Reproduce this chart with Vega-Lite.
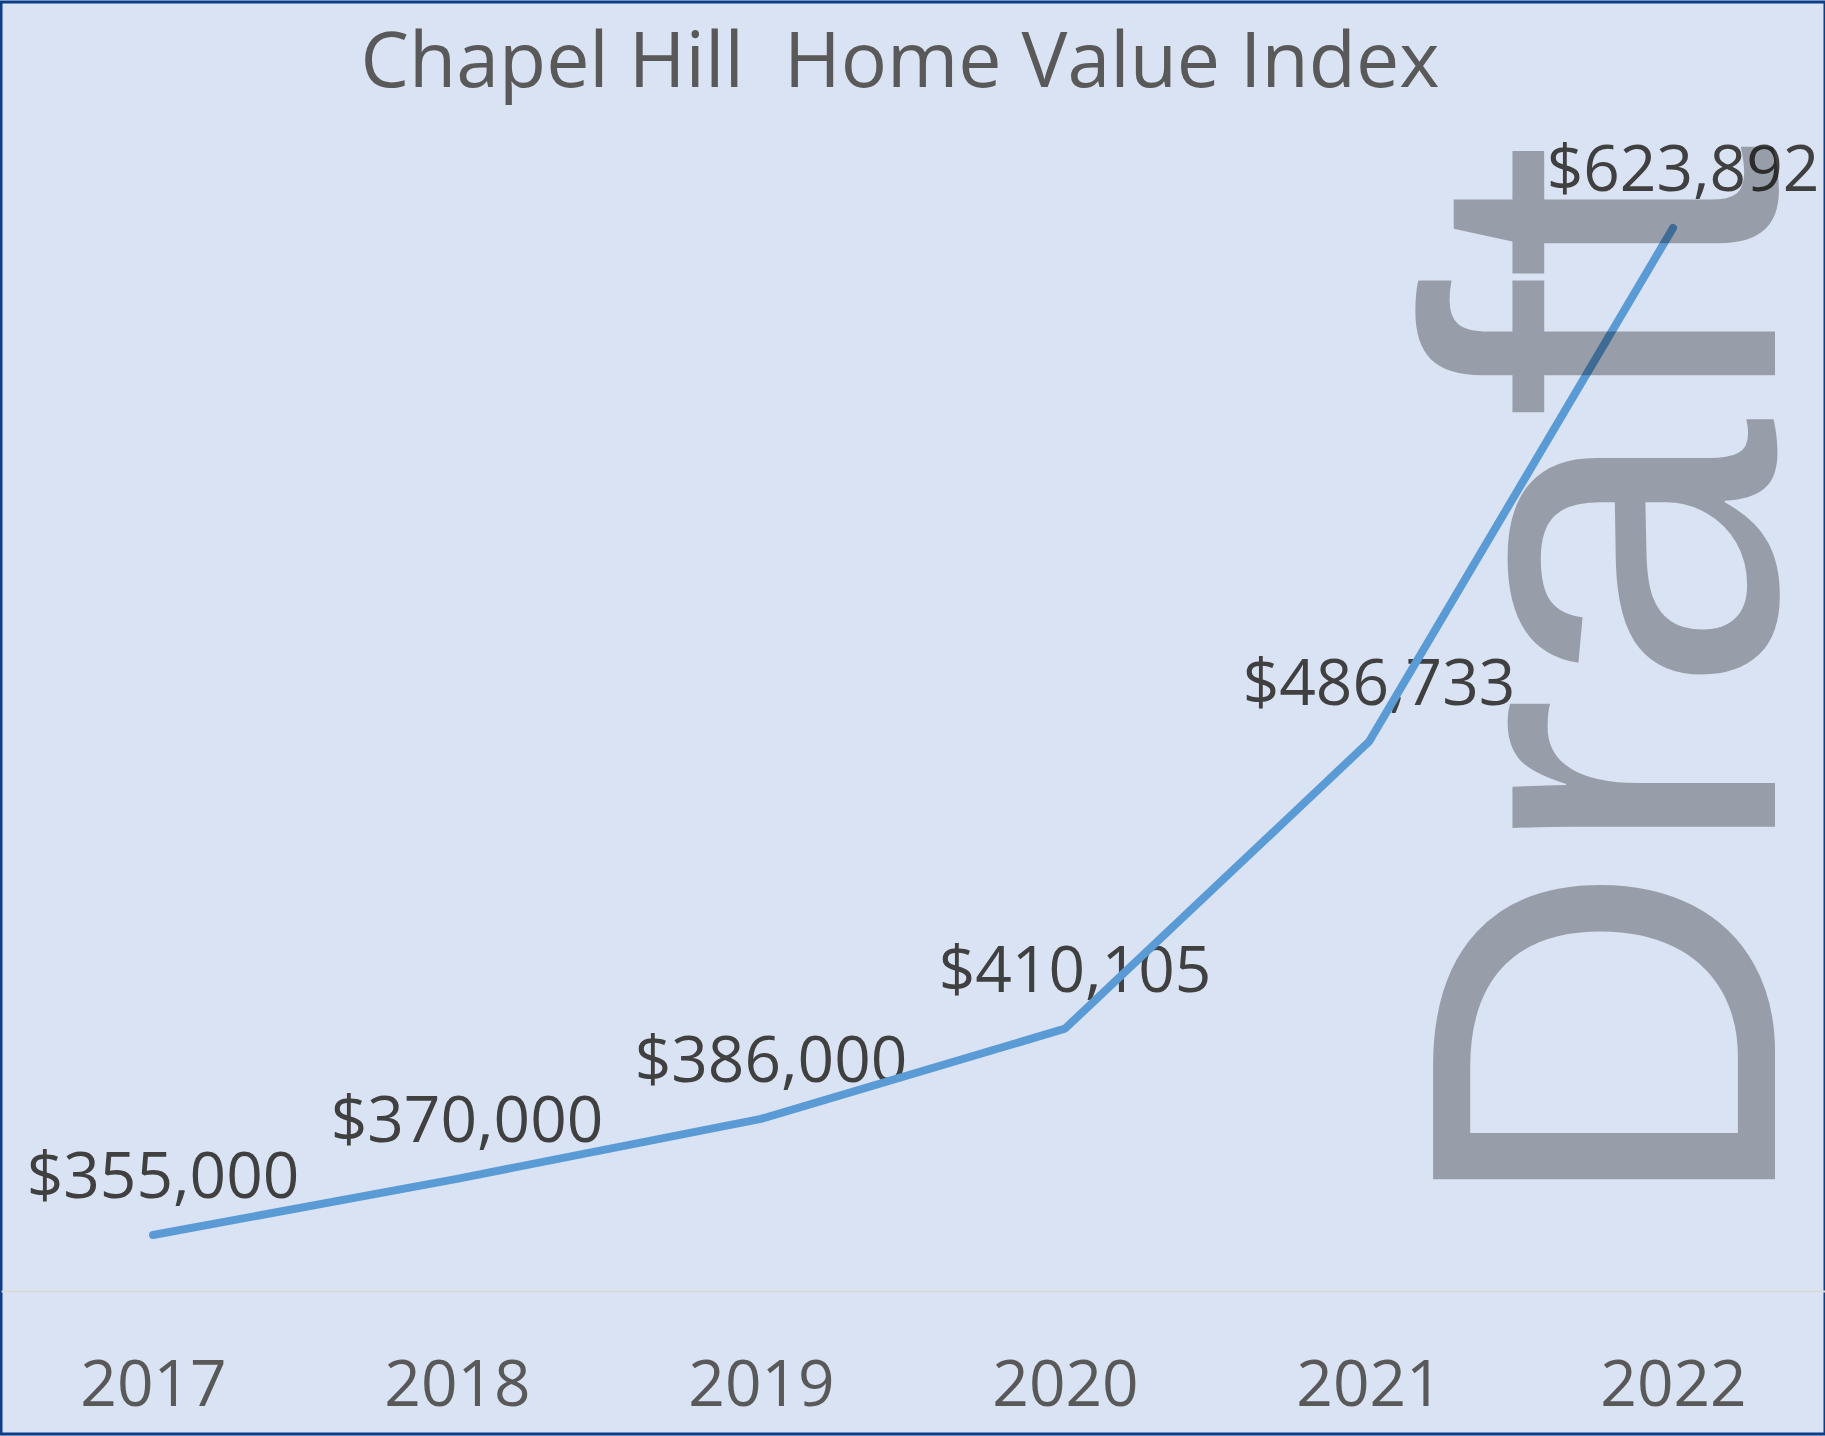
{
  "$schema": "https://vega.github.io/schema/vega-lite/v6.json",
  "autosize": {"type": "none"},
  "width": 1824,
  "height": 1432,
  "padding": {"left": 1, "top": 2, "right": 0, "bottom": 2},
  "background": "#DAE3F3",
  "title": {
    "text": "Chapel Hill\u00a0 Home Value Index",
    "orient": "top",
    "anchor": "middle",
    "frame": "group",
    "baseline": "alphabetic",
    "offset": -162,
    "dx": -13,
    "fontSize": 77,
    "font": "Open Sans",
    "fontWeight": "normal",
    "color": "#595959"
  },
  "data": {
    "values": [
      {"year": "2017", "value": 355000, "label": "$355,000"},
      {"year": "2018", "value": 370000, "label": "$370,000"},
      {"year": "2019", "value": 386000, "label": "$386,000"},
      {"year": "2020", "value": 410105, "label": "$410,105"},
      {"year": "2021", "value": 486733, "label": "$486,733"},
      {"year": "2022", "value": 623892, "label": "$623,892"}
    ]
  },
  "encoding": {
    "x": {
      "field": "year",
      "type": "ordinal",
      "scale": {"type": "point", "padding": 0.5},
      "axis": {
        "orient": "bottom",
        "offset": -143,
        "domainColor": "#D9D9D9",
        "domainWidth": 2,
        "ticks": false,
        "tickSize": 0,
        "labelPadding": 114,
        "labelBaseline": "alphabetic",
        "labelFontSize": 64,
        "labelFont": "Open Sans",
        "labelColor": "#595959",
        "labelAngle": 0,
        "labelFlush": false,
        "title": null,
        "grid": false
      }
    },
    "y": {
      "field": "value",
      "type": "quantitative",
      "scale": {"domain": [301869, 684246], "nice": false, "zero": false},
      "axis": null
    }
  },
  "layer": [
    {
      "mark": {
        "type": "text",
        "dx": 10,
        "dy": -37,
        "align": "center",
        "baseline": "alphabetic",
        "fontSize": 64,
        "font": "Open Sans",
        "color": "#404040"
      },
      "encoding": {"text": {"field": "label"}}
    },
    {
      "mark": {
        "type": "line",
        "color": "#5B9BD5",
        "strokeWidth": 8,
        "strokeCap": "round",
        "strokeJoin": "round"
      }
    },
    {
      "transform": [{"filter": "datum.year == '2022'"}],
      "mark": {
        "type": "text",
        "text": "Draft",
        "angle": 270,
        "align": "left",
        "baseline": "alphabetic",
        "dx": -992,
        "dy": 102,
        "fontSize": 497,
        "font": "Liberation Sans",
        "fill": "#000000",
        "fillOpacity": 0.3
      }
    }
  ],
  "config": {
    "view": {"stroke": "#0C3D87", "strokeWidth": 3, "fill": "#DAE3F3"}
  }
}
